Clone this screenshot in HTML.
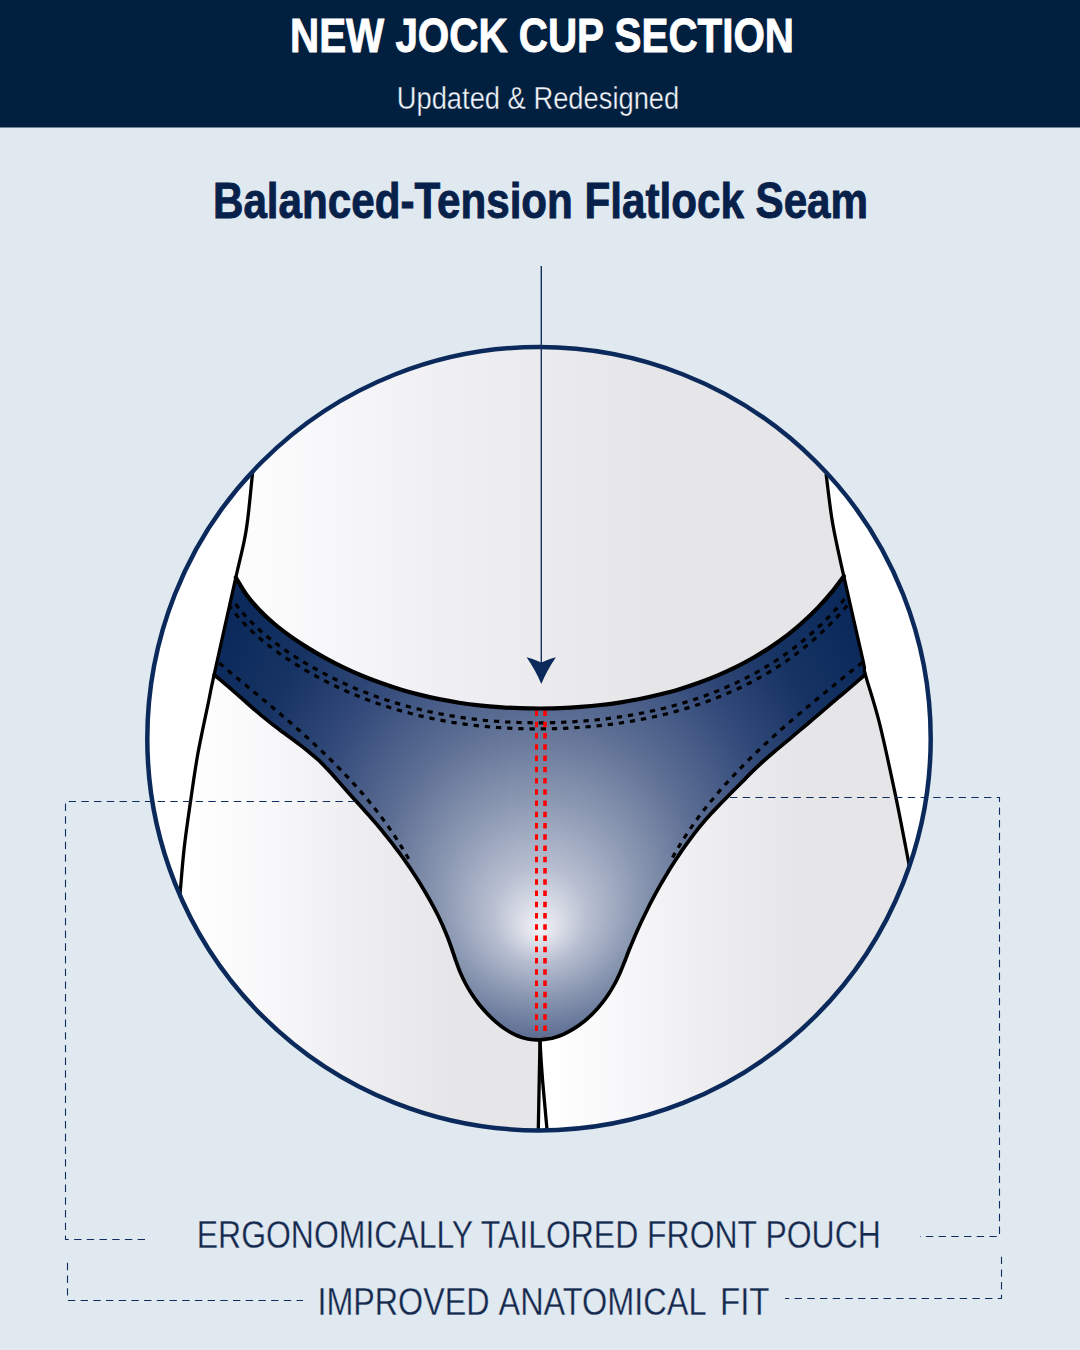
<!DOCTYPE html>
<html>
<head>
<meta charset="utf-8">
<title>New Jock Cup Section</title>
<style>
html,body{margin:0;padding:0;background:#e0e8f0;}
body{width:1080px;height:1350px;overflow:hidden;font-family:"Liberation Sans",sans-serif;}
svg{display:block;}
text{font-family:"Liberation Sans",sans-serif;}
</style>
</head>
<body>
<svg width="1080" height="1350" viewBox="0 0 1080 1350">
<defs>
  <clipPath id="circ"><circle cx="539" cy="738.7" r="391.7"/></clipPath>
  <clipPath id="briefclip"><path d="M235.8,577.5 C239.3,583.2 242.5,589.3 246.5,594.7 C250.4,600.2 255.0,605.3 259.6,610.2 C264.3,615.1 269.3,619.6 274.5,624.0 C279.6,628.4 285.1,632.4 290.6,636.4 C296.1,640.3 301.7,644.0 307.5,647.6 C313.2,651.2 319.1,654.6 325.0,657.8 C330.9,661.1 336.9,664.2 343.0,667.1 C349.1,670.1 355.3,672.9 361.5,675.5 C367.8,678.1 374.1,680.5 380.5,682.8 C386.8,685.1 393.2,687.2 399.7,689.2 C406.2,691.2 412.7,693.0 419.3,694.6 C425.8,696.3 432.4,697.8 439.1,699.1 C445.7,700.4 452.4,701.6 459.1,702.7 C465.7,703.7 472.5,704.6 479.2,705.3 C485.9,706.1 492.6,706.7 499.4,707.1 C506.1,707.6 512.9,708.0 519.7,708.2 C526.4,708.4 533.2,708.5 540.0,708.5 C546.7,708.5 553.5,708.3 560.3,708.1 C567.0,707.8 573.8,707.4 580.5,706.9 C587.3,706.4 594.0,705.8 600.7,705.0 C607.4,704.2 614.2,703.3 620.8,702.3 C627.5,701.2 634.2,700.1 640.8,698.7 C647.5,697.4 654.1,695.9 660.6,694.3 C667.2,692.6 673.7,690.9 680.2,688.9 C686.7,686.9 693.1,684.8 699.5,682.5 C705.8,680.2 712.1,677.7 718.3,675.1 C724.6,672.4 730.7,669.6 736.8,666.6 C742.8,663.6 748.8,660.3 754.6,657.0 C760.5,653.6 766.2,650.0 771.8,646.2 C777.4,642.4 782.9,638.4 788.3,634.3 C793.6,630.1 798.8,625.8 803.8,621.2 C808.8,616.7 813.7,612.0 818.4,607.1 C823.1,602.2 827.6,597.1 831.9,591.9 C836.1,586.8 839.8,581.5 843.8,576.2 L865,675 C861.9,677.6 858.7,680.2 855.6,682.9 C852.5,685.5 849.4,688.2 846.3,690.8 C843.2,693.4 840.1,696.1 837.0,698.7 C833.9,701.4 830.8,704.0 827.7,706.7 C824.6,709.3 821.5,712.0 818.4,714.6 C815.3,717.3 812.2,719.9 809.1,722.5 C806.0,725.2 802.9,727.8 799.7,730.4 C796.6,733.1 793.5,735.7 790.4,738.3 C787.2,740.9 784.1,743.5 781.0,746.1 C777.8,748.7 774.7,751.3 771.6,754.0 C768.5,756.6 765.4,759.3 762.4,762.0 C759.4,764.8 756.4,767.6 753.5,770.4 C750.6,773.3 747.7,776.2 744.9,779.1 C742.0,782.0 739.2,784.9 736.3,787.8 C733.4,790.7 730.5,793.6 727.7,796.5 C724.8,799.4 721.9,802.3 719.1,805.2 C716.3,808.1 713.4,811.1 710.7,814.1 C708.0,817.1 705.3,820.2 702.6,823.3 C700.0,826.4 697.4,829.6 694.9,832.8 C692.4,836.0 690.0,839.3 687.6,842.6 C685.2,845.9 682.8,849.2 680.5,852.6 C678.3,856.0 676.0,859.4 673.8,862.8 C671.6,866.2 669.4,869.7 667.3,873.2 C665.2,876.7 663.1,880.2 661.1,883.7 C659.1,887.2 657.1,890.8 655.1,894.4 C653.2,898.0 651.3,901.6 649.4,905.2 C647.6,908.8 645.8,912.5 644.0,916.2 C642.2,919.8 640.5,923.5 638.8,927.2 C637.1,930.9 635.5,934.7 633.9,938.4 C632.3,942.2 630.8,946.0 629.2,949.8 C627.7,953.5 626.3,957.4 624.8,961.2 C623.3,964.9 621.8,968.7 620.2,972.5 C618.5,976.2 616.8,979.9 614.9,983.5 C612.9,987.1 610.9,990.6 608.6,994.0 C606.4,997.4 604.0,1000.7 601.4,1003.9 C598.9,1007.1 596.2,1010.1 593.3,1013.0 C590.4,1015.9 587.4,1018.7 584.3,1021.3 C581.1,1023.8 577.8,1026.2 574.3,1028.4 C570.9,1030.5 567.3,1032.5 563.6,1034.2 C559.9,1035.8 556.0,1037.3 552.1,1038.3 C548.1,1039.2 544.0,1039.4 540.0,1040.0 C535.9,1039.7 531.8,1039.8 527.8,1039.0 C523.9,1038.2 519.9,1036.9 516.2,1035.2 C512.5,1033.6 508.9,1031.5 505.5,1029.2 C502.1,1027.0 498.9,1024.4 495.8,1021.8 C492.7,1019.1 489.7,1016.3 486.9,1013.3 C484.1,1010.3 481.4,1007.2 478.8,1004.0 C476.3,1000.8 473.9,997.5 471.7,994.1 C469.5,990.6 467.4,987.1 465.5,983.5 C463.6,979.9 461.8,976.1 460.2,972.4 C458.6,968.6 457.3,964.7 455.9,960.9 C454.5,957.0 453.3,953.1 452.0,949.3 C450.6,945.4 449.3,941.5 447.8,937.7 C446.3,933.9 444.7,930.1 443.1,926.4 C441.4,922.7 439.7,919.0 437.9,915.3 C436.1,911.6 434.2,908.0 432.2,904.4 C430.3,900.8 428.3,897.2 426.2,893.7 C424.1,890.1 422.0,886.6 419.9,883.2 C417.7,879.7 415.5,876.3 413.2,872.8 C411.0,869.4 408.7,866.0 406.3,862.7 C404.0,859.3 401.6,856.0 399.2,852.7 C396.7,849.4 394.3,846.2 391.8,842.9 C389.3,839.7 386.7,836.5 384.1,833.3 C381.6,830.1 378.9,827.0 376.3,823.9 C373.6,820.8 370.9,817.7 368.2,814.6 C365.5,811.6 362.8,808.5 360.0,805.5 C357.3,802.5 354.5,799.4 351.8,796.4 C349.0,793.3 346.3,790.3 343.6,787.2 C340.9,784.2 338.2,781.0 335.5,778.0 C332.8,774.9 330.1,771.9 327.2,768.9 C324.4,766.0 321.6,763.0 318.6,760.2 C315.6,757.5 312.5,754.8 309.3,752.2 C306.1,749.6 302.9,747.1 299.6,744.6 C296.4,742.1 293.1,739.7 289.8,737.3 C286.5,734.9 283.2,732.5 279.9,730.0 C276.6,727.6 273.4,725.1 270.2,722.6 C266.9,720.0 263.8,717.4 260.6,714.8 C257.5,712.2 254.4,709.5 251.3,706.8 C248.2,704.1 245.2,701.4 242.1,698.7 C239.0,696.0 235.9,693.3 232.9,690.6 C229.8,687.9 226.7,685.2 223.6,682.6 C220.5,679.9 217.3,677.4 214.1,674.8 Z"/></clipPath>
  <linearGradient id="torso" x1="260" y1="0" x2="650" y2="0" gradientUnits="userSpaceOnUse">
    <stop offset="0" stop-color="#fcfcfd"/>
    <stop offset="0.45" stop-color="#f0f0f4"/>
    <stop offset="1" stop-color="#e6e6e8"/>
  </linearGradient>
  <linearGradient id="legL" x1="188" y1="0" x2="455" y2="0" gradientUnits="userSpaceOnUse">
    <stop offset="0" stop-color="#ffffff"/>
    <stop offset="0.3" stop-color="#f8f8fa"/>
    <stop offset="0.6" stop-color="#efeff2"/>
    <stop offset="1" stop-color="#e6e6e8"/>
  </linearGradient>
  <linearGradient id="legR" x1="545" y1="0" x2="795" y2="0" gradientUnits="userSpaceOnUse">
    <stop offset="0" stop-color="#ffffff"/>
    <stop offset="0.3" stop-color="#f8f8fa"/>
    <stop offset="0.6" stop-color="#efeff2"/>
    <stop offset="1" stop-color="#e6e6e8"/>
  </linearGradient>
  <radialGradient id="brief" cx="540" cy="797" r="400" fx="540" fy="931" gradientUnits="userSpaceOnUse">
    <stop offset="0" stop-color="#f2f3f7"/>
    <stop offset="0.045" stop-color="#dde0e9"/>
    <stop offset="0.12" stop-color="#b7bed0"/>
    <stop offset="0.25" stop-color="#8a97b1"/>
    <stop offset="0.4" stop-color="#5c6e93"/>
    <stop offset="0.57" stop-color="#344b7b"/>
    <stop offset="0.74" stop-color="#163363"/>
    <stop offset="0.9" stop-color="#0b2a5b"/>
    <stop offset="1" stop-color="#0a2858"/>
  </radialGradient>
</defs>

<rect x="0" y="0" width="1080" height="1350" fill="#e0e8f0"/>
<!-- header -->
<rect x="0" y="0" width="1080" height="127.5" fill="#012040"/>
<text x="542" y="52" text-anchor="middle" font-size="49" font-weight="bold" fill="#ffffff" stroke="#ffffff" stroke-width="0.9" textLength="504" lengthAdjust="spacingAndGlyphs">NEW JOCK CUP SECTION</text>
<text x="538" y="109" text-anchor="middle" font-size="31" fill="#f2f4f8" stroke="#012040" stroke-width="0.35" textLength="282.5" lengthAdjust="spacingAndGlyphs">Updated &amp; Redesigned</text>

<!-- main title -->
<text x="540.5" y="218.3" text-anchor="middle" font-size="50.5" font-weight="bold" fill="#07214a" stroke="#07214a" stroke-width="0.9" textLength="655" lengthAdjust="spacingAndGlyphs">Balanced-Tension Flatlock Seam</text>

<!-- illustration -->
<g clip-path="url(#circ)">
  <rect x="140" y="340" width="800" height="800" fill="#ffffff"/>
  <path d="M252.5,340 L252.5,473.75 C250.4,492.5 249.0,512.7 246.2,530.0 C243.5,547.3 241.1,553.4 235.8,577.5 C230.4,601.6 221.3,642.4 214.1,674.8 L540,1000 L865,675 L843.75,576.25 L832.5,522.5 L826.25,475 L826.25,340 Z" fill="url(#torso)"/>
  <path d="M214.1,674.8 C217.3,677.4 220.5,679.9 223.6,682.6 C226.7,685.2 229.8,687.9 232.9,690.6 C235.9,693.3 239.0,696.0 242.1,698.7 C245.2,701.4 248.2,704.1 251.3,706.8 C254.4,709.5 257.5,712.2 260.6,714.8 C263.8,717.4 266.9,720.0 270.2,722.6 C273.4,725.1 276.6,727.6 279.9,730.0 C283.2,732.5 286.5,734.9 289.8,737.3 C293.1,739.7 296.4,742.1 299.6,744.6 C302.9,747.1 306.1,749.6 309.3,752.2 C312.5,754.8 315.6,757.5 318.6,760.2 C321.6,763.0 324.4,766.0 327.2,768.9 C330.1,771.9 332.8,774.9 335.5,778.0 C338.2,781.0 340.9,784.2 343.6,787.2 C346.3,790.3 349.0,793.3 351.8,796.4 C354.5,799.4 357.3,802.5 360.0,805.5 C362.8,808.5 365.5,811.6 368.2,814.6 C370.9,817.7 373.6,820.8 376.3,823.9 C378.9,827.0 381.6,830.1 384.1,833.3 C386.7,836.5 389.3,839.7 391.8,842.9 C394.3,846.2 396.7,849.4 399.2,852.7 C401.6,856.0 404.0,859.3 406.3,862.7 C408.7,866.0 411.0,869.4 413.2,872.8 C415.5,876.3 417.7,879.7 419.9,883.2 C422.0,886.6 424.1,890.1 426.2,893.7 C428.3,897.2 430.3,900.8 432.2,904.4 C434.2,908.0 436.1,911.6 437.9,915.3 C439.7,919.0 441.4,922.7 443.1,926.4 C444.7,930.1 446.3,933.9 447.8,937.7 C449.3,941.5 450.6,945.4 452.0,949.3 C453.3,953.1 454.5,957.0 455.9,960.9 C457.3,964.7 458.6,968.6 460.2,972.4 C461.8,976.1 463.6,979.9 465.5,983.5 C467.4,987.1 469.5,990.6 471.7,994.1 C473.9,997.5 476.3,1000.8 478.8,1004.0 C481.4,1007.2 484.1,1010.3 486.9,1013.3 C489.7,1016.3 492.7,1019.1 495.8,1021.8 C498.9,1024.4 502.1,1027.0 505.5,1029.2 C508.9,1031.5 512.5,1033.6 516.2,1035.2 C519.9,1036.9 523.9,1038.2 527.8,1039.0 C531.8,1039.8 535.9,1039.7 540.0,1040.0 L538.2,1135 L150,1135 L150,900 L180.3,891 L184.2,848 L190.6,801 L197.8,754 L208.9,700 Z" fill="url(#legL)"/>
  <path d="M865.0,675.0 C861.9,677.6 858.7,680.2 855.6,682.9 C852.5,685.5 849.4,688.2 846.3,690.8 C843.2,693.4 840.1,696.1 837.0,698.7 C833.9,701.4 830.8,704.0 827.7,706.7 C824.6,709.3 821.5,712.0 818.4,714.6 C815.3,717.3 812.2,719.9 809.1,722.5 C806.0,725.2 802.9,727.8 799.7,730.4 C796.6,733.1 793.5,735.7 790.4,738.3 C787.2,740.9 784.1,743.5 781.0,746.1 C777.8,748.7 774.7,751.3 771.6,754.0 C768.5,756.6 765.4,759.3 762.4,762.0 C759.4,764.8 756.4,767.6 753.5,770.4 C750.6,773.3 747.7,776.2 744.9,779.1 C742.0,782.0 739.2,784.9 736.3,787.8 C733.4,790.7 730.5,793.6 727.7,796.5 C724.8,799.4 721.9,802.3 719.1,805.2 C716.3,808.1 713.4,811.1 710.7,814.1 C708.0,817.1 705.3,820.2 702.6,823.3 C700.0,826.4 697.4,829.6 694.9,832.8 C692.4,836.0 690.0,839.3 687.6,842.6 C685.2,845.9 682.8,849.2 680.5,852.6 C678.3,856.0 676.0,859.4 673.8,862.8 C671.6,866.2 669.4,869.7 667.3,873.2 C665.2,876.7 663.1,880.2 661.1,883.7 C659.1,887.2 657.1,890.8 655.1,894.4 C653.2,898.0 651.3,901.6 649.4,905.2 C647.6,908.8 645.8,912.5 644.0,916.2 C642.2,919.8 640.5,923.5 638.8,927.2 C637.1,930.9 635.5,934.7 633.9,938.4 C632.3,942.2 630.8,946.0 629.2,949.8 C627.7,953.5 626.3,957.4 624.8,961.2 C623.3,964.9 621.8,968.7 620.2,972.5 C618.5,976.2 616.8,979.9 614.9,983.5 C612.9,987.1 610.9,990.6 608.6,994.0 C606.4,997.4 604.0,1000.7 601.4,1003.9 C598.9,1007.1 596.2,1010.1 593.3,1013.0 C590.4,1015.9 587.4,1018.7 584.3,1021.3 C581.1,1023.8 577.8,1026.2 574.3,1028.4 C570.9,1030.5 567.3,1032.5 563.6,1034.2 C559.9,1035.8 556.0,1037.3 552.1,1038.3 C548.1,1039.2 544.0,1039.4 540.0,1040.0 L542.7,1082 L547.5,1135 L940,1135 L940,900 L908.3,860.6 L895.5,795.4 L879.6,723.7 Z" fill="url(#legR)"/>
  <path d="M235.8,577.5 C239.3,583.2 242.5,589.3 246.5,594.7 C250.4,600.2 255.0,605.3 259.6,610.2 C264.3,615.1 269.3,619.6 274.5,624.0 C279.6,628.4 285.1,632.4 290.6,636.4 C296.1,640.3 301.7,644.0 307.5,647.6 C313.2,651.2 319.1,654.6 325.0,657.8 C330.9,661.1 336.9,664.2 343.0,667.1 C349.1,670.1 355.3,672.9 361.5,675.5 C367.8,678.1 374.1,680.5 380.5,682.8 C386.8,685.1 393.2,687.2 399.7,689.2 C406.2,691.2 412.7,693.0 419.3,694.6 C425.8,696.3 432.4,697.8 439.1,699.1 C445.7,700.4 452.4,701.6 459.1,702.7 C465.7,703.7 472.5,704.6 479.2,705.3 C485.9,706.1 492.6,706.7 499.4,707.1 C506.1,707.6 512.9,708.0 519.7,708.2 C526.4,708.4 533.2,708.5 540.0,708.5 C546.7,708.5 553.5,708.3 560.3,708.1 C567.0,707.8 573.8,707.4 580.5,706.9 C587.3,706.4 594.0,705.8 600.7,705.0 C607.4,704.2 614.2,703.3 620.8,702.3 C627.5,701.2 634.2,700.1 640.8,698.7 C647.5,697.4 654.1,695.9 660.6,694.3 C667.2,692.6 673.7,690.9 680.2,688.9 C686.7,686.9 693.1,684.8 699.5,682.5 C705.8,680.2 712.1,677.7 718.3,675.1 C724.6,672.4 730.7,669.6 736.8,666.6 C742.8,663.6 748.8,660.3 754.6,657.0 C760.5,653.6 766.2,650.0 771.8,646.2 C777.4,642.4 782.9,638.4 788.3,634.3 C793.6,630.1 798.8,625.8 803.8,621.2 C808.8,616.7 813.7,612.0 818.4,607.1 C823.1,602.2 827.6,597.1 831.9,591.9 C836.1,586.8 839.8,581.5 843.8,576.2 L865,675 C861.9,677.6 858.7,680.2 855.6,682.9 C852.5,685.5 849.4,688.2 846.3,690.8 C843.2,693.4 840.1,696.1 837.0,698.7 C833.9,701.4 830.8,704.0 827.7,706.7 C824.6,709.3 821.5,712.0 818.4,714.6 C815.3,717.3 812.2,719.9 809.1,722.5 C806.0,725.2 802.9,727.8 799.7,730.4 C796.6,733.1 793.5,735.7 790.4,738.3 C787.2,740.9 784.1,743.5 781.0,746.1 C777.8,748.7 774.7,751.3 771.6,754.0 C768.5,756.6 765.4,759.3 762.4,762.0 C759.4,764.8 756.4,767.6 753.5,770.4 C750.6,773.3 747.7,776.2 744.9,779.1 C742.0,782.0 739.2,784.9 736.3,787.8 C733.4,790.7 730.5,793.6 727.7,796.5 C724.8,799.4 721.9,802.3 719.1,805.2 C716.3,808.1 713.4,811.1 710.7,814.1 C708.0,817.1 705.3,820.2 702.6,823.3 C700.0,826.4 697.4,829.6 694.9,832.8 C692.4,836.0 690.0,839.3 687.6,842.6 C685.2,845.9 682.8,849.2 680.5,852.6 C678.3,856.0 676.0,859.4 673.8,862.8 C671.6,866.2 669.4,869.7 667.3,873.2 C665.2,876.7 663.1,880.2 661.1,883.7 C659.1,887.2 657.1,890.8 655.1,894.4 C653.2,898.0 651.3,901.6 649.4,905.2 C647.6,908.8 645.8,912.5 644.0,916.2 C642.2,919.8 640.5,923.5 638.8,927.2 C637.1,930.9 635.5,934.7 633.9,938.4 C632.3,942.2 630.8,946.0 629.2,949.8 C627.7,953.5 626.3,957.4 624.8,961.2 C623.3,964.9 621.8,968.7 620.2,972.5 C618.5,976.2 616.8,979.9 614.9,983.5 C612.9,987.1 610.9,990.6 608.6,994.0 C606.4,997.4 604.0,1000.7 601.4,1003.9 C598.9,1007.1 596.2,1010.1 593.3,1013.0 C590.4,1015.9 587.4,1018.7 584.3,1021.3 C581.1,1023.8 577.8,1026.2 574.3,1028.4 C570.9,1030.5 567.3,1032.5 563.6,1034.2 C559.9,1035.8 556.0,1037.3 552.1,1038.3 C548.1,1039.2 544.0,1039.4 540.0,1040.0 C535.9,1039.7 531.8,1039.8 527.8,1039.0 C523.9,1038.2 519.9,1036.9 516.2,1035.2 C512.5,1033.6 508.9,1031.5 505.5,1029.2 C502.1,1027.0 498.9,1024.4 495.8,1021.8 C492.7,1019.1 489.7,1016.3 486.9,1013.3 C484.1,1010.3 481.4,1007.2 478.8,1004.0 C476.3,1000.8 473.9,997.5 471.7,994.1 C469.5,990.6 467.4,987.1 465.5,983.5 C463.6,979.9 461.8,976.1 460.2,972.4 C458.6,968.6 457.3,964.7 455.9,960.9 C454.5,957.0 453.3,953.1 452.0,949.3 C450.6,945.4 449.3,941.5 447.8,937.7 C446.3,933.9 444.7,930.1 443.1,926.4 C441.4,922.7 439.7,919.0 437.9,915.3 C436.1,911.6 434.2,908.0 432.2,904.4 C430.3,900.8 428.3,897.2 426.2,893.7 C424.1,890.1 422.0,886.6 419.9,883.2 C417.7,879.7 415.5,876.3 413.2,872.8 C411.0,869.4 408.7,866.0 406.3,862.7 C404.0,859.3 401.6,856.0 399.2,852.7 C396.7,849.4 394.3,846.2 391.8,842.9 C389.3,839.7 386.7,836.5 384.1,833.3 C381.6,830.1 378.9,827.0 376.3,823.9 C373.6,820.8 370.9,817.7 368.2,814.6 C365.5,811.6 362.8,808.5 360.0,805.5 C357.3,802.5 354.5,799.4 351.8,796.4 C349.0,793.3 346.3,790.3 343.6,787.2 C340.9,784.2 338.2,781.0 335.5,778.0 C332.8,774.9 330.1,771.9 327.2,768.9 C324.4,766.0 321.6,763.0 318.6,760.2 C315.6,757.5 312.5,754.8 309.3,752.2 C306.1,749.6 302.9,747.1 299.6,744.6 C296.4,742.1 293.1,739.7 289.8,737.3 C286.5,734.9 283.2,732.5 279.9,730.0 C276.6,727.6 273.4,725.1 270.2,722.6 C266.9,720.0 263.8,717.4 260.6,714.8 C257.5,712.2 254.4,709.5 251.3,706.8 C248.2,704.1 245.2,701.4 242.1,698.7 C239.0,696.0 235.9,693.3 232.9,690.6 C229.8,687.9 226.7,685.2 223.6,682.6 C220.5,679.9 217.3,677.4 214.1,674.8 Z" fill="url(#brief)"/>
  <g clip-path="url(#briefclip)" fill="none" stroke="#000" stroke-width="3.2" stroke-dasharray="5.3,5.9">
    <path d="M223.6,585.0 L225.2,587.7 L226.9,590.6 L228.7,593.6 L230.6,596.7 L232.6,599.9 L234.9,603.2 L237.2,606.2 L239.5,609.1 L241.9,612.0 L244.4,614.8 L246.8,617.4 L249.3,620.1 L251.9,622.7 L254.5,625.3 L257.2,627.8 L259.8,630.2 L262.5,632.6 L265.2,634.9 L268.0,637.2 L270.9,639.5 L273.7,641.7 L276.5,643.8 L279.4,645.9 L282.2,648.0 L285.2,650.1 L288.1,652.1 L291.0,654.0 L294.0,656.0 L296.9,657.9 L299.9,659.7 L302.9,661.6 L305.9,663.4 L308.9,665.2 L312.0,666.9 L315.0,668.7 L318.1,670.4 L321.2,672.1 L324.3,673.7 L327.4,675.3 L330.5,676.9 L333.7,678.5 L336.8,680.0 L340.0,681.5 L343.2,683.0 L346.4,684.5 L349.6,685.9 L352.8,687.3 L356.0,688.7 L359.2,690.0 L362.5,691.3 L365.8,692.6 L369.0,693.9 L372.3,695.1 L375.6,696.3 L378.9,697.5 L382.2,698.6 L385.5,699.7 L388.9,700.8 L392.2,701.9 L395.6,702.9 L398.9,703.9 L402.3,704.9 L405.6,705.8 L409.0,706.7 L412.4,707.6 L415.8,708.5 L419.2,709.3 L422.6,710.2 L426.0,710.9 L429.4,711.7 L432.8,712.4 L436.2,713.1 L439.7,713.8 L443.1,714.4 L446.5,715.1 L450.0,715.7 L453.4,716.2 L456.9,716.8 L460.3,717.3 L463.8,717.8 L467.2,718.3 L470.7,718.7 L474.1,719.1 L477.6,719.5 L481.1,719.9 L484.5,720.3 L488.0,720.6 L491.5,720.9 L494.9,721.2 L498.4,721.4 L501.9,721.6 L505.3,721.9 L508.8,722.0 L512.3,722.2 L515.7,722.4 L519.2,722.5 L522.7,722.6 L526.1,722.7 L529.6,722.7 L533.1,722.8 L536.5,722.8 L540.0,722.8 L543.5,722.8 L546.9,722.7 L550.4,722.7 L553.9,722.6 L557.3,722.5 L560.8,722.3 L564.3,722.2 L567.7,722.0 L571.2,721.9 L574.7,721.7 L578.1,721.4 L581.6,721.2 L585.1,720.9 L588.5,720.6 L592.0,720.3 L595.4,720.0 L598.9,719.6 L602.4,719.2 L605.8,718.8 L609.3,718.4 L612.7,717.9 L616.2,717.4 L619.6,716.9 L623.0,716.4 L626.5,715.9 L629.9,715.3 L633.3,714.7 L636.8,714.1 L640.2,713.4 L643.6,712.8 L647.1,712.1 L650.5,711.3 L653.9,710.6 L657.3,709.8 L660.7,709.0 L664.1,708.2 L667.5,707.3 L670.9,706.4 L674.2,705.5 L677.6,704.5 L681.0,703.6 L684.3,702.6 L687.7,701.5 L691.0,700.5 L694.4,699.4 L697.7,698.3 L701.0,697.1 L704.3,696.0 L707.6,694.7 L710.9,693.5 L714.2,692.2 L717.4,690.9 L720.7,689.6 L724.0,688.2 L727.2,686.8 L730.4,685.4 L733.6,684.0 L736.8,682.5 L740.0,680.9 L743.2,679.4 L746.3,677.8 L749.4,676.2 L752.6,674.5 L755.7,672.8 L758.8,671.1 L761.8,669.3 L764.9,667.5 L767.9,665.7 L770.9,663.8 L773.9,661.9 L776.9,660.0 L779.8,658.0 L782.8,656.0 L785.7,654.0 L788.6,652.0 L791.4,649.9 L794.3,647.7 L797.1,645.5 L799.9,643.3 L802.6,641.1 L805.4,638.8 L808.1,636.5 L810.7,634.2 L813.4,631.8 L816.0,629.4 L818.6,627.0 L821.2,624.6 L823.7,622.1 L826.2,619.5 L828.7,617.0 L831.2,614.4 L833.6,611.8 L836.0,609.1 L838.3,606.4 L840.6,603.7 L842.9,601.0 L845.2,598.2 L847.3,595.4 L849.4,592.6 L851.4,590.0 L853.3,587.4 L855.2,584.9"/>
    <path d="M218.4,588.2 L220.0,590.8 L221.7,593.7 L223.4,596.7 L225.4,599.9 L227.6,603.3 L230.0,606.7 L232.4,609.9 L234.8,613.0 L237.3,616.0 L239.8,618.8 L242.4,621.6 L244.9,624.3 L247.6,627.0 L250.3,629.7 L253.0,632.3 L255.8,634.8 L258.5,637.2 L261.3,639.6 L264.2,642.0 L267.1,644.3 L270.0,646.5 L272.9,648.7 L275.8,650.9 L278.7,653.0 L281.7,655.1 L284.7,657.1 L287.7,659.1 L290.7,661.1 L293.7,663.0 L296.7,664.9 L299.7,666.8 L302.8,668.6 L305.9,670.5 L308.9,672.2 L312.1,674.0 L315.2,675.7 L318.3,677.4 L321.4,679.1 L324.6,680.7 L327.8,682.4 L331.0,684.0 L334.2,685.5 L337.4,687.0 L340.6,688.5 L343.9,690.0 L347.1,691.5 L350.4,692.9 L353.6,694.3 L356.9,695.6 L360.2,697.0 L363.5,698.3 L366.9,699.6 L370.2,700.8 L373.5,702.0 L376.9,703.2 L380.3,704.4 L383.6,705.5 L387.0,706.6 L390.4,707.7 L393.8,708.7 L397.2,709.8 L400.6,710.7 L404.0,711.7 L407.4,712.6 L410.9,713.5 L414.3,714.4 L417.8,715.3 L421.2,716.1 L424.7,716.9 L428.1,717.6 L431.6,718.4 L435.0,719.1 L438.5,719.8 L442.0,720.4 L445.5,721.1 L449.0,721.7 L452.4,722.3 L455.9,722.8 L459.4,723.3 L462.9,723.8 L466.4,724.3 L469.9,724.8 L473.4,725.2 L476.9,725.6 L480.4,726.0 L483.9,726.3 L487.4,726.7 L490.9,727.0 L494.5,727.2 L498.0,727.5 L501.5,727.7 L505.0,727.9 L508.5,728.1 L512.0,728.3 L515.5,728.5 L519.0,728.6 L522.5,728.7 L526.0,728.8 L529.5,728.8 L533.0,728.9 L536.5,728.9 L540.0,728.9 L543.5,728.9 L547.0,728.8 L550.5,728.8 L554.0,728.7 L557.5,728.6 L561.0,728.4 L564.5,728.3 L568.0,728.1 L571.5,727.9 L575.0,727.7 L578.5,727.5 L582.1,727.3 L585.5,727.0 L589.0,726.7 L592.5,726.4 L596.0,726.0 L599.5,725.7 L603.0,725.3 L606.5,724.9 L610.0,724.4 L613.5,724.0 L617.0,723.5 L620.5,723.0 L624.0,722.4 L627.5,721.9 L630.9,721.3 L634.4,720.7 L637.9,720.1 L641.4,719.4 L644.8,718.7 L648.3,718.0 L651.8,717.3 L655.2,716.5 L658.7,715.7 L662.1,714.9 L665.6,714.1 L669.0,713.2 L672.4,712.3 L675.9,711.4 L679.3,710.4 L682.7,709.4 L686.1,708.4 L689.5,707.4 L692.9,706.3 L696.3,705.2 L699.7,704.1 L703.0,702.9 L706.4,701.7 L709.7,700.5 L713.1,699.2 L716.4,697.9 L719.7,696.6 L723.0,695.2 L726.4,693.8 L729.6,692.4 L732.9,691.0 L736.2,689.5 L739.4,688.0 L742.7,686.4 L745.9,684.8 L749.1,683.2 L752.3,681.6 L755.4,679.9 L758.6,678.1 L761.8,676.4 L764.9,674.6 L768.0,672.8 L771.1,670.9 L774.1,669.0 L777.2,667.1 L780.2,665.1 L783.2,663.1 L786.2,661.1 L789.2,659.0 L792.1,656.9 L795.0,654.8 L797.9,652.6 L800.8,650.4 L803.7,648.1 L806.5,645.8 L809.3,643.5 L812.0,641.2 L814.8,638.8 L817.5,636.4 L820.2,633.9 L822.8,631.4 L825.4,628.9 L828.0,626.4 L830.6,623.8 L833.1,621.2 L835.6,618.6 L838.1,615.9 L840.5,613.2 L842.9,610.4 L845.3,607.7 L847.6,604.9 L850.0,601.9 L852.2,599.1 L854.3,596.3 L856.3,593.6 L858.2,591.0 L860.0,588.6" stroke-dashoffset="3"/>
    <path d="M219.3,663.0 C223.4,666.5 227.6,670.1 231.7,673.6 C235.9,677.1 240.1,680.5 244.3,684.0 C248.5,687.4 252.7,690.9 256.9,694.3 C261.0,697.8 265.2,701.3 269.4,704.7 C273.5,708.2 277.7,711.7 281.8,715.3 C285.9,718.8 290.0,722.3 294.1,725.9 C298.2,729.5 302.2,733.1 306.3,736.7 C310.3,740.4 314.3,744.0 318.2,747.8 C322.2,751.5 326.1,755.2 330.0,759.0 C333.8,762.8 337.7,766.7 341.4,770.6 C345.2,774.5 348.9,778.4 352.6,782.4 C356.2,786.4 359.8,790.5 363.4,794.6 C366.9,798.8 370.3,802.9 373.7,807.2 C377.1,811.4 380.4,815.7 383.6,820.1 C386.8,824.5 389.9,828.9 392.9,833.4 C396.0,837.9 398.9,842.6 401.7,847.1 C404.6,851.7 407.2,856.4 410.0,861.0"/>
    <path d="M862.5,662.5 C858.2,665.9 853.8,669.2 849.5,672.6 C845.3,676.0 841.1,679.5 836.8,682.9 C832.6,686.3 828.3,689.8 824.1,693.2 C819.9,696.7 815.7,700.1 811.5,703.6 C807.3,707.1 803.1,710.6 799.0,714.1 C794.8,717.6 790.7,721.2 786.6,724.8 C782.5,728.4 778.4,732.0 774.4,735.6 C770.3,739.3 766.3,743.0 762.3,746.7 C758.4,750.4 754.4,754.2 750.6,758.0 C746.7,761.9 742.8,765.7 739.1,769.7 C735.3,773.6 731.5,777.6 727.9,781.6 C724.2,785.6 720.6,789.7 717.1,793.9 C713.6,798.0 710.1,802.3 706.7,806.5 C703.3,810.8 700.0,815.1 696.8,819.5 C693.6,824.0 690.5,828.4 687.5,833.0 C684.4,837.5 681.5,842.1 678.7,846.8 C675.9,851.4 673.3,856.2 670.6,860.9"/>
  </g>
  <path d="M536.5,710.5 L536.5,1037" fill="none" stroke="#fe0000" stroke-width="3" stroke-dasharray="5.6,5.65"/>
  <path d="M545,710.5 L545,1037" fill="none" stroke="#fe0000" stroke-width="3.6" stroke-dasharray="5.6,5.65"/>
  <g fill="none" stroke="#000" stroke-width="3.7" stroke-linejoin="round" stroke-linecap="round">
    <path d="M235.8,577.5 C239.3,583.2 242.5,589.3 246.5,594.7 C250.4,600.2 255.0,605.3 259.6,610.2 C264.3,615.1 269.3,619.6 274.5,624.0 C279.6,628.4 285.1,632.4 290.6,636.4 C296.1,640.3 301.7,644.0 307.5,647.6 C313.2,651.2 319.1,654.6 325.0,657.8 C330.9,661.1 336.9,664.2 343.0,667.1 C349.1,670.1 355.3,672.9 361.5,675.5 C367.8,678.1 374.1,680.5 380.5,682.8 C386.8,685.1 393.2,687.2 399.7,689.2 C406.2,691.2 412.7,693.0 419.3,694.6 C425.8,696.3 432.4,697.8 439.1,699.1 C445.7,700.4 452.4,701.6 459.1,702.7 C465.7,703.7 472.5,704.6 479.2,705.3 C485.9,706.1 492.6,706.7 499.4,707.1 C506.1,707.6 512.9,708.0 519.7,708.2 C526.4,708.4 533.2,708.5 540.0,708.5 C546.7,708.5 553.5,708.3 560.3,708.1 C567.0,707.8 573.8,707.4 580.5,706.9 C587.3,706.4 594.0,705.8 600.7,705.0 C607.4,704.2 614.2,703.3 620.8,702.3 C627.5,701.2 634.2,700.1 640.8,698.7 C647.5,697.4 654.1,695.9 660.6,694.3 C667.2,692.6 673.7,690.9 680.2,688.9 C686.7,686.9 693.1,684.8 699.5,682.5 C705.8,680.2 712.1,677.7 718.3,675.1 C724.6,672.4 730.7,669.6 736.8,666.6 C742.8,663.6 748.8,660.3 754.6,657.0 C760.5,653.6 766.2,650.0 771.8,646.2 C777.4,642.4 782.9,638.4 788.3,634.3 C793.6,630.1 798.8,625.8 803.8,621.2 C808.8,616.7 813.7,612.0 818.4,607.1 C823.1,602.2 827.6,597.1 831.9,591.9 C836.1,586.8 839.8,581.5 843.8,576.2" stroke-width="4.2"/>
    <path d="M214.1,674.8 C217.3,677.4 220.5,679.9 223.6,682.6 C226.7,685.2 229.8,687.9 232.9,690.6 C235.9,693.3 239.0,696.0 242.1,698.7 C245.2,701.4 248.2,704.1 251.3,706.8 C254.4,709.5 257.5,712.2 260.6,714.8 C263.8,717.4 266.9,720.0 270.2,722.6 C273.4,725.1 276.6,727.6 279.9,730.0 C283.2,732.5 286.5,734.9 289.8,737.3 C293.1,739.7 296.4,742.1 299.6,744.6 C302.9,747.1 306.1,749.6 309.3,752.2 C312.5,754.8 315.6,757.5 318.6,760.2 C321.6,763.0 324.4,766.0 327.2,768.9 C330.1,771.9 332.8,774.9 335.5,778.0 C338.2,781.0 340.9,784.2 343.6,787.2 C346.3,790.3 349.0,793.3 351.8,796.4 C354.5,799.4 357.3,802.5 360.0,805.5 C362.8,808.5 365.5,811.6 368.2,814.6 C370.9,817.7 373.6,820.8 376.3,823.9 C378.9,827.0 381.6,830.1 384.1,833.3 C386.7,836.5 389.3,839.7 391.8,842.9 C394.3,846.2 396.7,849.4 399.2,852.7 C401.6,856.0 404.0,859.3 406.3,862.7 C408.7,866.0 411.0,869.4 413.2,872.8 C415.5,876.3 417.7,879.7 419.9,883.2 C422.0,886.6 424.1,890.1 426.2,893.7 C428.3,897.2 430.3,900.8 432.2,904.4 C434.2,908.0 436.1,911.6 437.9,915.3 C439.7,919.0 441.4,922.7 443.1,926.4 C444.7,930.1 446.3,933.9 447.8,937.7 C449.3,941.5 450.6,945.4 452.0,949.3 C453.3,953.1 454.5,957.0 455.9,960.9 C457.3,964.7 458.6,968.6 460.2,972.4 C461.8,976.1 463.6,979.9 465.5,983.5 C467.4,987.1 469.5,990.6 471.7,994.1 C473.9,997.5 476.3,1000.8 478.8,1004.0 C481.4,1007.2 484.1,1010.3 486.9,1013.3 C489.7,1016.3 492.7,1019.1 495.8,1021.8 C498.9,1024.4 502.1,1027.0 505.5,1029.2 C508.9,1031.5 512.5,1033.6 516.2,1035.2 C519.9,1036.9 523.9,1038.2 527.8,1039.0 C531.8,1039.8 535.9,1039.7 540.0,1040.0"/>
    <path d="M865.0,675.0 C861.9,677.6 858.7,680.2 855.6,682.9 C852.5,685.5 849.4,688.2 846.3,690.8 C843.2,693.4 840.1,696.1 837.0,698.7 C833.9,701.4 830.8,704.0 827.7,706.7 C824.6,709.3 821.5,712.0 818.4,714.6 C815.3,717.3 812.2,719.9 809.1,722.5 C806.0,725.2 802.9,727.8 799.7,730.4 C796.6,733.1 793.5,735.7 790.4,738.3 C787.2,740.9 784.1,743.5 781.0,746.1 C777.8,748.7 774.7,751.3 771.6,754.0 C768.5,756.6 765.4,759.3 762.4,762.0 C759.4,764.8 756.4,767.6 753.5,770.4 C750.6,773.3 747.7,776.2 744.9,779.1 C742.0,782.0 739.2,784.9 736.3,787.8 C733.4,790.7 730.5,793.6 727.7,796.5 C724.8,799.4 721.9,802.3 719.1,805.2 C716.3,808.1 713.4,811.1 710.7,814.1 C708.0,817.1 705.3,820.2 702.6,823.3 C700.0,826.4 697.4,829.6 694.9,832.8 C692.4,836.0 690.0,839.3 687.6,842.6 C685.2,845.9 682.8,849.2 680.5,852.6 C678.3,856.0 676.0,859.4 673.8,862.8 C671.6,866.2 669.4,869.7 667.3,873.2 C665.2,876.7 663.1,880.2 661.1,883.7 C659.1,887.2 657.1,890.8 655.1,894.4 C653.2,898.0 651.3,901.6 649.4,905.2 C647.6,908.8 645.8,912.5 644.0,916.2 C642.2,919.8 640.5,923.5 638.8,927.2 C637.1,930.9 635.5,934.7 633.9,938.4 C632.3,942.2 630.8,946.0 629.2,949.8 C627.7,953.5 626.3,957.4 624.8,961.2 C623.3,964.9 621.8,968.7 620.2,972.5 C618.5,976.2 616.8,979.9 614.9,983.5 C612.9,987.1 610.9,990.6 608.6,994.0 C606.4,997.4 604.0,1000.7 601.4,1003.9 C598.9,1007.1 596.2,1010.1 593.3,1013.0 C590.4,1015.9 587.4,1018.7 584.3,1021.3 C581.1,1023.8 577.8,1026.2 574.3,1028.4 C570.9,1030.5 567.3,1032.5 563.6,1034.2 C559.9,1035.8 556.0,1037.3 552.1,1038.3 C548.1,1039.2 544.0,1039.4 540.0,1040.0"/>
  </g>
  <g fill="none" stroke="#000" stroke-width="3.3" stroke-linejoin="round" stroke-linecap="round">
    <path d="M252.5,473.8 C250.4,492.5 249.0,512.7 246.2,530.0 C243.5,547.3 241.1,553.4 235.8,577.5 C230.4,601.6 218.6,654.4 214.1,674.8 C209.6,695.2 211.6,686.8 208.9,700.0 C206.2,713.2 200.9,737.2 197.8,754.0 C194.8,770.8 192.9,785.3 190.6,801.0 C188.3,816.7 185.9,833.0 184.2,848.0 C182.5,863.0 181.5,877.3 180.3,891.0 C179.1,904.7 178.1,917.0 177.0,930.0"/>
    <path d="M826.2,475.0 C828.3,490.8 829.6,505.6 832.5,522.5 C835.4,539.4 838.7,553.3 843.8,576.2 C848.8,599.2 859.3,643.7 862.9,660.0 C866.5,676.3 862.5,663.7 865.3,674.3 C868.1,684.9 874.6,703.5 879.6,723.7 C884.6,743.9 890.7,772.6 895.5,795.4 C900.3,818.2 904.9,843.2 908.3,860.6 C911.7,878.0 913.4,886.9 916.0,900.0"/>
    <path d="M540,1040 L538.2,1135"/>
    <path d="M540,1040 Q541,1062 542.7,1082 L547.5,1135"/>
  </g>
</g>
<!-- callouts -->
<g fill="none" stroke="#0f2d5e" stroke-width="1.1" stroke-dasharray="7.4,5.3">
<path d="M355.5,801.5 L65.5,801.5 L65.5,1239.5 L145,1239.5"/>
<path d="M730,797.5 L999.5,797.5 L999.5,1236.5 L920,1236.5"/>
<path d="M67.5,1262.8 L67.5,1300.5 L303,1300.5"/>
<path d="M1001.5,1256.7 L1001.5,1298.5 L785,1298.5"/>
</g>
<circle cx="539" cy="738.7" r="391.7" fill="none" stroke="#0b2a5b" stroke-width="4.5"/>

<!-- arrow -->
<path d="M541.3,266 L541.3,664" fill="none" stroke="#14305e" stroke-width="1.4"/>
<path d="M541.3,683.9 Q536,671 526.6,657.2 Q534.5,659 541.3,662.4 Q548,659 555.9,657.2 Q546.6,671 541.3,683.9 Z" fill="#0b2a5b"/>

<!-- bottom text -->
<text x="538.8" y="1248.2" text-anchor="middle" font-size="38.5" fill="#14294d" stroke="#e0e8f0" stroke-width="0.3" textLength="684" lengthAdjust="spacingAndGlyphs">ERGONOMICALLY TAILORED FRONT POUCH</text>
<g font-size="38.5" fill="#14294d" stroke="#e0e8f0" stroke-width="0.3">
<text x="317.5" y="1315.4" textLength="172" lengthAdjust="spacingAndGlyphs">IMPROVED</text>
<text x="498.5" y="1315.4" textLength="208" lengthAdjust="spacingAndGlyphs">ANATOMICAL</text>
<text x="720" y="1315.4" textLength="49.5" lengthAdjust="spacingAndGlyphs">FIT</text>
</g>
</svg>
</body>
</html>
